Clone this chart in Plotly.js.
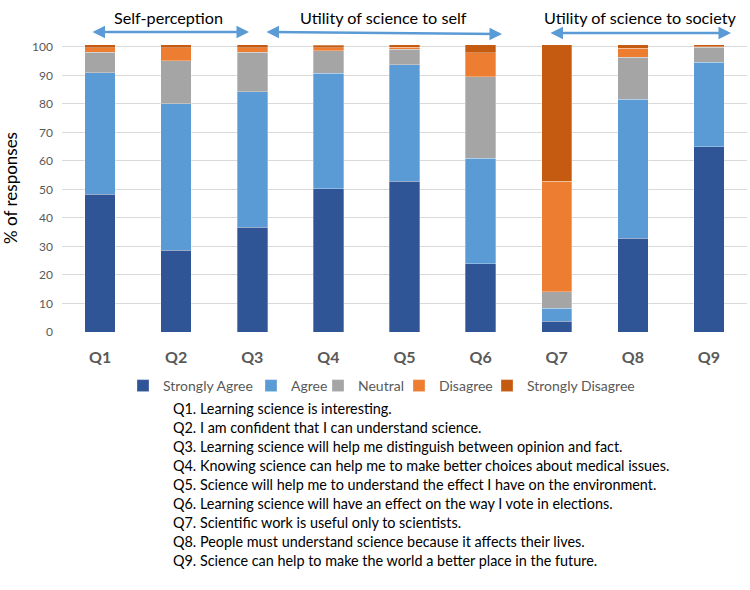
<!DOCTYPE html>
<html><head><meta charset="utf-8">
<script src="https://cdn.plot.ly/plotly-3.0.1.min.js"></script>
<style>body{margin:0;background:#fff}#chart{width:750px;height:590px}</style>
</head><body><div id="chart"></div>
<script>
const categories = ["Q1","Q2","Q3","Q4","Q5","Q6","Q7","Q8","Q9"];
const stronglyAgree    = [48.3, 28.7, 36.8, 50.2, 52.9, 24.0,  3.8, 32.8, 65.0];
const agree            = [42.7, 51.4, 47.4, 40.6, 40.8, 36.9,  4.5, 48.8, 29.6];
const neutral          = [ 7.1, 15.0, 13.9,  7.8,  5.5, 28.6,  5.9, 14.8,  5.2];
const disagree         = [ 1.5,  4.5,  1.5,  1.0,  0.7,  8.4, 38.7,  3.1,  0.2];
const stronglyDisagree = [ 1.1,  1.1,  1.1,  1.0,  0.8,  2.8, 47.8,  1.2,  0.7];
const seriesNames = ["Strongly Agree","Agree","Neutral","Disagree","Strongly Disagree"];
const seriesColors = ["#2F5597","#5B9BD5","#A5A5A5","#ED7D31","#C55A11"];
const groupLabels = ["Self-perception","Utility of science to self","Utility of science to society"];
const questions = [
  "Q1. Learning science is interesting.",
  "Q2. I am confident that I can understand science.",
  "Q3. Learning science will help me distinguish between opinion and fact.",
  "Q4. Knowing science can help me to make better choices about medical issues.",
  "Q5. Science will help me to understand the effect I have on the environment.",
  "Q6. Learning science will have an effect on the way I vote in elections.",
  "Q7. Scientific work is useful only to scientists.",
  "Q8. People must understand science because it affects their lives.",
  "Q9. Science can help to make the world a better place in the future."
];
const seriesValues = [stronglyAgree, agree, neutral, disagree, stronglyDisagree];
const font = "Lato, 'Open Sans', sans-serif";

const legendIds = ["legend","legend2","legend3","legend4","legend5"];
const traces = seriesValues.map((v, i) => ({
  type: "bar", x: categories, y: v, name: seriesNames[i], legend: legendIds[i],
  marker: {color: seriesColors[i], line: {color: "rgba(255,255,255,0.5)", width: 0.6}},
  hoverinfo: "x+y+name"
}));

// plot area: x 62..747, y 44..332
const L = 62, R = 747, T = 44, B = 332;
const W = R - L, H = B - T;
const px = p => (p - L) / W;
const py = p => (B - p) / H;

const annotations = [];
const groupText = [[168, 17], [383, 17], [640, 17]];
const arrows = [[91, 249, 32, 32], [265, 502, 32, 34], [549, 731, 33, 33]];
groupLabels.forEach((t, i) => {
  annotations.push({text: t, xref: "paper", yref: "paper", x: px(groupText[i][0]), y: py(groupText[i][1]),
    showarrow: false, font: {family: font, size: 16.2, color: "#000"}, xanchor: "center", yanchor: "middle"});
  const a = arrows[i];
  annotations.push({text: "", xref: "paper", yref: "paper", x: px(a[1]), y: py(a[3]),
    ax: -(a[1] - a[0]), ay: -(a[3] - a[2]), axref: "pixel", ayref: "pixel",
    showarrow: true, arrowside: "end+start", arrowhead: 2, arrowsize: 1, arrowwidth: 2.5, arrowcolor: "#5B9BD5"});
});
questions.forEach((q, i) => {
  annotations.push({text: q, xref: "paper", yref: "paper", x: px(171), y: py(408 + i * 19.1),
    xanchor: "left", yanchor: "middle", showarrow: false, align: "left",
    font: {family: font, size: 14.4, color: "#000"}});
});

// legend text start positions (px)
const legendTextX = [159, 287, 354, 435, 523];
const layout = {
  width: 750, height: 590,
  margin: {l: L, r: 750 - R, t: T, b: 590 - B, pad: 0},
  paper_bgcolor: "#fff", plot_bgcolor: "#fff",
  barmode: "stack", bargap: 0.6,
  showlegend: true,
  xaxis: {type: "category", showgrid: false, zeroline: false, showline: false, ticks: "",
    tickfont: {family: font, size: 16, color: "#595959", weight: "bold"}, ticklabelstandoff: 14},
  yaxis: {range: [0, 101], tickvals: [0,10,20,30,40,50,60,70,80,90,100], showgrid: true,
    gridcolor: "#D9D9D9", gridwidth: 1, zeroline: false, showline: false, ticks: "",
    tickfont: {family: font, size: 12, color: "#595959"}, ticklabelstandoff: 8,
    title: {text: "% of responses", font: {family: font, size: 17, color: "#000"}, standoff: 10}},
  annotations: annotations
};
legendIds.forEach((id, i) => {
  layout[id] = {orientation: "h", x: px(legendTextX[i] - 36), xanchor: "left", y: py(386), yanchor: "middle",
    font: {family: font, size: 14, color: "#595959"}, itemwidth: 30, bgcolor: "rgba(0,0,0,0)"};
});
Plotly.newPlot("chart", traces, layout, {displayModeBar: false, staticPlot: true});
</script></body></html>
